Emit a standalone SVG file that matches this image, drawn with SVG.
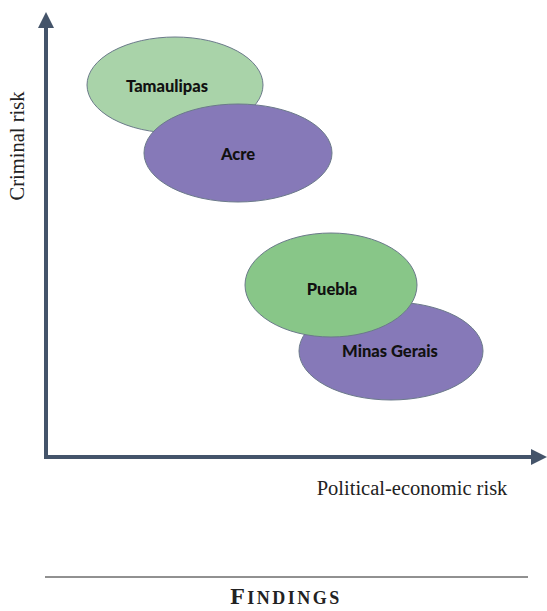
<svg xmlns="http://www.w3.org/2000/svg" width="547" height="611" viewBox="0 0 547 611">
<style>
.n{stroke:#6b7a8a;stroke-width:1}
.lbl{font-family:Lato,"Liberation Sans",sans-serif;font-weight:900;font-size:16.5px;fill:#111;text-anchor:middle}
.ax{font-family:"Liberation Serif",serif;font-size:20.5px;fill:#222}
</style>
<defs>
<marker id="ah" markerWidth="4" markerHeight="4" refX="2" refY="2" orient="auto" markerUnits="strokeWidth">
<path d="M0,0 L4,2 L0,4 z" fill="#44546a"/>
</marker>
</defs>
<rect width="547" height="611" fill="#fff"/>
<g id="connectors">
<line x1="46" y1="459" x2="46" y2="20" stroke="#44546a" stroke-width="4" marker-end="url(#ah)"/>
<line x1="44" y1="457" x2="539" y2="457" stroke="#44546a" stroke-width="4" marker-end="url(#ah)"/>
</g>
<g id="tamaulipas">
<ellipse class="n" cx="175" cy="85" rx="88" ry="48" fill="#a9d3a9"/>
<text class="lbl" x="167" y="92">Tamaulipas</text>
</g>
<g id="acre">
<ellipse class="n" cx="238" cy="153" rx="94" ry="49" fill="#8679b8"/>
<text class="lbl" x="238" y="160">Acre</text>
</g>
<g id="minas-gerais">
<ellipse class="n" cx="391" cy="351" rx="92" ry="49" fill="#8679b8"/>
<text class="lbl" x="390" y="357">Minas Gerais</text>
</g>
<g id="puebla">
<ellipse class="n" cx="331" cy="285" rx="86" ry="52" fill="#88c688"/>
<text class="lbl" x="332" y="295">Puebla</text>
</g>
<text class="ax" transform="translate(24,146) rotate(-90)" text-anchor="middle">Criminal risk</text>
<text class="ax" x="412" y="495" text-anchor="middle">Political-economic risk</text>
<line x1="45" y1="577" x2="528" y2="577" stroke="#222" stroke-width="1"/>
<text x="286" y="604" text-anchor="middle" font-family="Liberation Serif,serif" font-weight="bold" font-size="24" fill="#222" letter-spacing="2.5">F<tspan font-size="18">INDINGS</tspan></text>
</svg>
